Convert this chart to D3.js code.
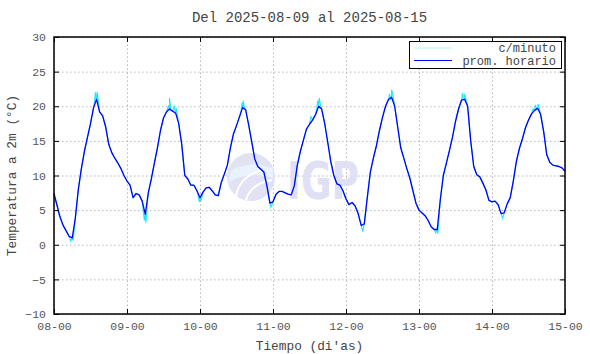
<!DOCTYPE html>
<html>
<head>
<meta charset="utf-8">
<script src="https://cdn.jsdelivr.net/npm/d3@7"></script>
<style>
  body { margin: 0; background: #fff; }
  text { font-family: "Liberation Mono", "DejaVu Sans Mono", monospace; }
</style>
</head>
<body>
<svg></svg>
<script>
const width = 590;
const height = 354;

// hourly averages from 2025-08-08 00:00 to 2025-08-15 00:00
const startDate = Date.UTC(2025, 7, 8, 0);
const promHorario = [
  7.4, 5.7, 4.0, 2.8, 2.0, 1.2, 1.0, 3.8, 8.0, 11.0, 13.5, 15.5, 17.5, 19.8, 21.0, 19.2, 18.6, 17.0, 14.5, 13.3, 12.5, 11.8, 11.0, 10.0,
  9.2, 8.6, 6.8, 7.4, 7.2, 6.3, 4.4, 7.5, 9.5, 11.8, 14.0, 16.5, 18.3, 19.2, 19.6, 19.3, 19.0, 17.5, 14.5, 10.0, 9.5, 8.6, 8.6, 7.8,
  6.8, 7.6, 8.2, 8.3, 7.8, 7.2, 7.1, 9.0, 10.2, 11.5, 14.0, 16.0, 17.2, 18.5, 19.8, 19.5, 17.3, 14.9, 12.4, 11.3, 10.9, 10.5, 8.5, 6.0,
  6.2, 7.3, 7.7, 7.7, 7.5, 7.3, 7.2, 8.5, 11.5, 13.5, 15.1, 16.7, 17.4, 18.0, 18.8, 20.0, 19.6, 17.5, 14.8, 12.0, 10.0, 8.8, 8.6, 7.8,
  6.6, 5.8, 6.1, 5.6, 4.5, 2.8, 3.0, 6.8, 10.5, 12.5, 14.3, 16.5, 18.4, 20.0, 21.0, 21.3, 20.0, 17.0, 14.0, 12.5, 11.0, 9.6, 7.8, 6.0,
  5.0, 4.6, 4.2, 3.5, 2.6, 2.2, 2.2, 6.5, 10.0, 11.8, 13.6, 15.5, 17.8, 19.6, 20.9, 21.0, 20.0, 15.0, 11.3, 10.1, 9.8, 8.9, 7.9, 6.4,
  6.2, 6.3, 5.8, 4.5, 4.6, 5.9, 6.8, 9.2, 12.0, 13.9, 15.3, 16.9, 18.0, 18.9, 19.4, 19.7, 18.8, 16.3, 13.0, 11.9, 11.5, 11.4, 11.3, 11.1,
  10.6
];

// per-minute excursions seen around the hourly line [hour, value]
const minutoPicos = [
  [0.3, 6.5], [1.5, 4.5], [5.5, 0.5], [6.3, 0.6], [13.3, 20.5], [13.6, 22.0], [13.9, 20.9], [14.2, 22.1], [14.5, 21.0],
  [29.7, 3.5], [30.2, 3.2], [37.6, 20.0], [38.0, 21.2], [38.4, 19.4], [39.5, 20.0], [40.2, 19.7],
  [47.8, 6.2], [48.3, 6.3], [61.5, 19.3], [61.8, 20.5], [62.2, 20.8], [62.5, 20.0],
  [71.3, 5.4], [84.5, 18.5], [86.3, 19.4], [86.7, 20.8], [87.2, 21.2], [87.6, 20.2],
  [101.5, 1.9], [110.3, 21.8], [110.7, 21.0], [111.0, 22.4], [111.5, 21.5],
  [125.5, 1.7], [126.2, 1.6], [134.3, 21.9], [134.6, 21.0], [135.0, 21.8],
  [147.5, 3.8], [157.5, 19.6], [158.3, 20.2], [158.7, 19.5], [159.2, 20.3]
];

const yTicks = [-10, -5, 0, 5, 10, 15, 20, 25, 30];
const titulo = "Del 2025-08-09 al 2025-08-15";
const xTitulo = "Tiempo (di'as)";
const yTitulo = "Temperatura a 2m (°C)";
const leyenda = ["c/minuto", "prom. horario"];

const mLeft = 54, mRight = 565, mTop = 37, mBottom = 314;

let svg = d3.select("svg")
    .attr("width", width)
    .attr("height", height);

const hourMs = 3600 * 1000;
const toDate = h => new Date(startDate + h * hourMs);

let x = d3.scaleUtc()
    .domain([toDate(0), toDate(168)])
    .range([mLeft, mRight]);

let y = d3.scaleLinear()
    .domain([-10, 30])
    .range([mBottom, mTop]);

const xTickVals = d3.range(0, 169, 24).map(toDate);
const fmt = d3.utcFormat("%d-%H");

// grid
let grid = svg.append("g");
grid.append("g")
    .attr("transform", `translate(0,${mBottom})`)
    .call(d3.axisBottom(x).tickValues(xTickVals).tickSize(-(mBottom - mTop)).tickFormat(""));
grid.append("g")
    .attr("transform", `translate(${mLeft},0)`)
    .call(d3.axisLeft(y).tickValues(yTicks).tickSize(-(mRight - mLeft)).tickFormat(""));
grid.selectAll(".domain").remove();
grid.selectAll("line")
    .attr("stroke", "#b4b4b4")
    .attr("stroke-dasharray", "1.5,2.5");

// watermark
let mark = svg.append("g");
mark.append("circle")
    .attr("cx", 251).attr("cy", 177).attr("r", 24)
    .attr("fill", "#e2e2f5");
mark.append("path")
    .attr("d", "M231,170 Q251,160 273,168 L273,178 Q251,170 229,182 Z")
    .attr("fill", "#eaf2fd");
mark.append("path")
    .attr("d", "M236,196 Q240,176 262,170 M246,200 Q250,184 272,180")
    .attr("fill", "none")
    .attr("stroke", "#fff")
    .attr("stroke-width", 2);
mark.append("text")
    .attr("x", 287).attr("y", 199)
    .attr("textLength", 72)
    .attr("lengthAdjust", "spacingAndGlyphs")
    .style("font-family", "'DejaVu Sans', sans-serif")
    .style("font-weight", "bold")
    .style("font-size", "52px")
    .attr("fill", "#e0e0f4")
    .text("IGP");

// series
const horario = promHorario.map((v, i) => ({t: toDate(i), v: v}));
const minuto = horario
    .concat(minutoPicos.map(d => ({t: toDate(d[0]), v: d[1]})))
    .sort((a, b) => a.t - b.t);

const line = d3.line()
    .x(d => x(d.t))
    .y(d => y(d.v));

svg.append("path")
    .attr("d", line(minuto))
    .attr("fill", "none")
    .attr("stroke", "#22e6ff")
    .attr("stroke-width", 1.1);

svg.append("path")
    .attr("d", line(horario))
    .attr("fill", "none")
    .attr("stroke", "#0000ff")
    .attr("stroke-width", 1.3)
    .attr("stroke-linejoin", "round");

// axes with inward ticks on all sides
function styleAxis(g) {
    g.selectAll(".domain").remove();
    g.selectAll("line").attr("stroke", "#000").attr("stroke-width", 1);
    g.selectAll("text")
        .attr("fill", "#555")
        .style("font-size", "11.5px")
        .style("font-family", "'Liberation Mono', monospace");
}

svg.append("g")
    .attr("transform", `translate(0,${mBottom})`)
    .call(d3.axisBottom(x).tickValues(xTickVals).tickSizeInner(-5).tickSizeOuter(0).tickPadding(8).tickFormat(fmt))
    .call(styleAxis);
svg.append("g")
    .attr("transform", `translate(0,${mTop})`)
    .call(d3.axisTop(x).tickValues(xTickVals).tickSizeInner(-5).tickSizeOuter(0).tickFormat(""))
    .call(styleAxis);
svg.append("g")
    .attr("transform", `translate(${mLeft},0)`)
    .call(d3.axisLeft(y).tickValues(yTicks).tickSizeInner(-5).tickSizeOuter(0).tickPadding(8))
    .call(styleAxis);
svg.append("g")
    .attr("transform", `translate(${mRight},0)`)
    .call(d3.axisRight(y).tickValues(yTicks).tickSizeInner(-5).tickSizeOuter(0).tickFormat(""))
    .call(styleAxis);

// frame
svg.append("rect")
    .attr("x", mLeft).attr("y", mTop)
    .attr("width", mRight - mLeft).attr("height", mBottom - mTop)
    .attr("fill", "none")
    .attr("stroke", "#000")
    .attr("stroke-width", 1.5);

// legend
let leg = svg.append("g");
leg.append("rect")
    .attr("x", 409.5).attr("y", 41.5)
    .attr("width", 152).attr("height", 27)
    .attr("fill", "#fff")
    .attr("stroke", "#000");
const legColors = ["#aef6ff", "#0000ff"];
leyenda.forEach((name, i) => {
    leg.append("line")
        .attr("x1", 414).attr("x2", 452)
        .attr("y1", 48 + i * 12.5).attr("y2", 48 + i * 12.5)
        .attr("stroke", legColors[i])
        .attr("stroke-width", 1.2);
    leg.append("text")
        .attr("x", 556).attr("y", 52 + i * 12.5)
        .attr("text-anchor", "end")
        .attr("fill", "#444")
        .style("font-size", "12px")
        .text(name);
});

// titles
svg.append("text")
    .attr("x", (mLeft + mRight) / 2).attr("y", 22)
    .attr("text-anchor", "middle")
    .attr("fill", "#444")
    .style("font-size", "14px")
    .text(titulo);
svg.append("text")
    .attr("x", (mLeft + mRight) / 2).attr("y", 350)
    .attr("text-anchor", "middle")
    .attr("fill", "#444")
    .style("font-size", "12.8px")
    .text(xTitulo);
svg.append("text")
    .attr("transform", `translate(16,${(mTop + mBottom) / 2}) rotate(-90)`)
    .attr("text-anchor", "middle")
    .attr("fill", "#444")
    .style("font-size", "12.8px")
    .text(yTitulo);
</script>
</body>
</html>
